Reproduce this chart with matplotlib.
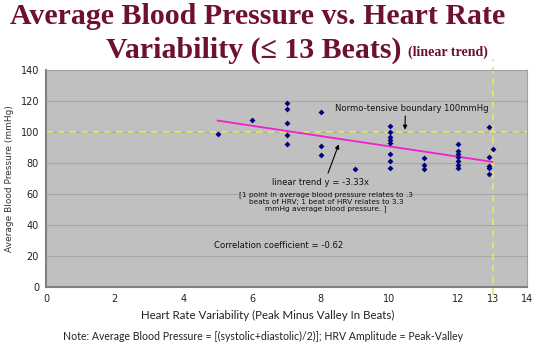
import matplotlib
matplotlib.use("Agg")
import matplotlib.pyplot as plt
import numpy as np

# ---- data ----
hrv = [5, 6,
       7, 7, 7, 7, 7,
       8, 8, 8,
       9,
       10, 10, 10, 10, 10, 10, 10, 10,
       11, 11, 11,
       12, 12, 12, 12, 12, 12, 12,
       12.9, 12.9, 12.9, 12.9, 12.9, 13]
bp = [99, 108,
      119, 115, 106, 98, 92,
      113, 91, 85,
      76,
      104, 100, 97, 95, 93, 86, 81, 77,
      83, 79, 76,
      92, 88, 86, 84, 81, 79, 77,
      103, 84, 78, 77, 73, 89]
trend_slope = -3.33
trend_intercept = 124.0
trend_x = [5, 13]
boundary_bp = 100
boundary_hrv = 13
x_ticks = [0, 2, 4, 6, 8, 10, 12, 13, 14]
y_ticks = [0, 20, 40, 60, 80, 100, 120, 140]

fig = plt.figure(figsize=(5.38, 3.48), dpi=100)
fig.patch.set_facecolor("white")
ax = fig.add_axes([46/538, 1-287/348, (527-46)/538, (287-70)/348])
ax.set_facecolor("#C0C0C0")
ax.set_xlim(0, 14)
ax.set_ylim(0, 140)
ax.set_xticks(x_ticks)
ax.set_yticks(y_ticks)
ax.tick_params(length=0, labelsize=7, colors="#222222", pad=5)
for lbl in ax.get_xticklabels() + ax.get_yticklabels():
    lbl.set_family("DejaVu Sans")
ax.grid(axis="y", color="#A8A8A8", linewidth=0.8)
ax.set_axisbelow(True)
for s in ["top", "right"]:
    ax.spines[s].set_color("#A0A0A0")
    ax.spines[s].set_linewidth(0.8)
for s in ["left", "bottom"]:
    ax.spines[s].set_color("#808080")
    ax.spines[s].set_linewidth(1.5)

# boundary lines
ax.axhline(boundary_bp, color="#E8E860", linestyle=(0, (4, 3)), linewidth=1.2, zorder=2)
ax.plot([boundary_hrv, boundary_hrv], [-5, 147], color="#E8E860",
        linestyle=(0, (4, 3)), linewidth=1.2, clip_on=False, zorder=2)

# trend
tx = np.array(trend_x, dtype=float)
ax.plot(tx, trend_intercept + trend_slope * tx, color="#F020D0", linewidth=1.3, zorder=3)

# points
ax.scatter(hrv, bp, marker="D", s=9, color="#000080", zorder=4, linewidths=0)

# annotations
ax.annotate("Normo-tensive boundary 100mmHg", xy=(10.45, 101.5), xytext=(8.4, 115),
            fontsize=6.1, color="#111111", ha="left", va="center",
            arrowprops=dict(arrowstyle="-|>", color="black", lw=0.8, mutation_scale=6,
                            shrinkA=0, shrinkB=0, relpos=(0.46, 0),
                            connectionstyle="arc3"), annotation_clip=False)
ax.annotate("", xy=(8.52, 92), xytext=(8.21, 73.5),
            arrowprops=dict(arrowstyle="-|>", color="black", lw=0.8, mutation_scale=6,
                            shrinkA=0, shrinkB=0))
ax.text(8.0, 67.5, "linear trend y = -3.33x", fontsize=6.1, ha="center", va="center",
        color="#111111")
ax.text(8.15, 55, "[1 point in average blood pressure relates to .3\n"
        "beats of HRV; 1 beat of HRV relates to 3.3\n"
        "mmHg average blood pressure. ]", fontsize=5.3, ha="center", va="center",
        color="#111111", linespacing=1.2)
ax.text(4.9, 27, "Correlation coefficient = -0.62", fontsize=6.1, ha="left", va="center",
        color="#111111")

ax.set_ylabel("Average Blood Pressure (mmHg)", fontsize=6.5, color="#333333", labelpad=5)

# titles and bottom text
tcol = "#6E1030"
fig.text(258/538, 1-17/348, "Average Blood Pressure vs. Heart Rate", ha="center", va="center",
         fontsize=21.5, fontweight="bold", family="Liberation Serif", color=tcol)
fig.text(402/538, 1-50/348, "Variability (\u2264 13 Beats)", ha="right", va="center",
         fontsize=21.5, fontweight="bold", family="Liberation Serif", color=tcol)
fig.text(408/538, 1-52/348, "(linear trend)", ha="left", va="center",
         fontsize=10, fontweight="bold", family="Liberation Serif", color=tcol)
fig.text(268/538, 1-315/348, "Heart Rate Variability (Peak Minus Valley In Beats)",
         ha="center", va="center", fontsize=8.3, family="Lato", color="#222222")
fig.text(263/538, 1-336/348,
         "Note: Average Blood Pressure = [(systolic+diastolic)/2)]; HRV Amplitude = Peak-Valley",
         ha="center", va="center", fontsize=7.6, family="Lato", color="#222222")

fig.savefig("out.png", dpi=100, facecolor="white")
